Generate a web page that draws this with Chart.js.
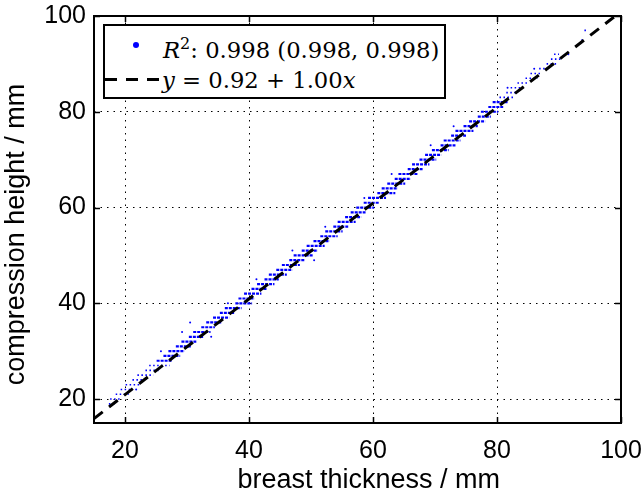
<!DOCTYPE html>
<html>
<head>
<meta charset="utf-8">
<script src="https://cdn.jsdelivr.net/npm/chart.js@4.4.0/dist/chart.umd.min.js"></script>
<style>
  body { margin: 0; background: #fff; }
  #wrap { position: relative; width: 644px; height: 498px; }
  #legend {
    position: absolute; left: 103px; top: 24px; width: 343px; height: 75px;
    box-sizing: border-box; border: 2px solid #000; background: #fff;
    font-family: 'DejaVu Serif', serif; font-size: 22.7px; color: #000;
  }
  #legend .row { position: absolute; white-space: nowrap; line-height: 30px; }
  #legend .dot { position: absolute; left: 28px; top: 16px; width: 6px; height: 6px; border-radius: 50%; background: #0000ff; }
  #legend .dash { position: absolute; left: 0; top: 52px; width: 56px; height: 3px;
    background: repeating-linear-gradient(90deg, #000 0 12px, transparent 12px 21px); }
  #legend sup { font-size: 16px; line-height: 0; vertical-align: 9px; }
</style>
</head>
<body>
<div id="wrap">
  <canvas id="scatterChart"></canvas>
  <div id="legend">
    <span class="dot"></span>
    <span class="row" style="left:58px; top:9px;"><i>R</i><sup>2</sup>: 0.998 (0.998, 0.998)</span>
    <span class="dash"></span>
    <span class="row" style="left:57px; top:39px;"><i>y</i> = 0.92 + 1.00<i>x</i></span>
  </div>
</div>
<script>
// Graduations des axes
const xTicks = [20, 40, 60, 80, 100];
const yTicks = [20, 40, 60, 80, 100];

// Bandes denses : hauteur de compression (y) et étendue de l'épaisseur (x)
const denseY = [28, 29, 30, 31, 32, 33, 34, 35, 36, 37, 38, 39, 40, 41, 42, 43, 44, 45, 46, 47,
  48, 49, 50, 51, 52, 53, 54, 55, 56, 57, 58, 59, 60, 61, 62, 63, 64, 65, 66, 67,
  68, 69, 70, 71, 72, 73, 74, 75, 76, 77, 78, 79, 80, 81, 82];
const denseXMin = [25.1, 26.2, 27.0, 28.2, 29.1, 30.3, 31.0, 32.3, 33.1, 34.2, 35.3, 36.1, 37.8, 38.3, 39.2, 40.4, 41.3, 42.5, 43.2, 44.4,
  45.3, 46.5, 47.2, 48.5, 49.3, 50.4, 51.5, 52.3, 53.6, 54.3, 55.5, 56.4, 57.3, 58.5, 59.2, 60.7, 61.4, 62.3, 63.5, 64.1,
  65.6, 66.3, 67.5, 68.4, 69.5, 70.9, 71.4, 72.6, 73.3, 74.6, 75.5, 76.9, 77.4, 78.6, 79.3];
const denseXMax = [27.6, 28.9, 29.6, 30.7, 31.5, 32.6, 33.8, 34.5, 35.6, 36.8, 37.6, 38.8, 40.5, 40.9, 42.0, 42.9, 44.1, 44.8, 46.1, 47.0,
  48.2, 49.0, 50.3, 51.1, 52.2, 53.0, 54.3, 55.1, 56.0, 57.2, 58.1, 58.8, 60.2, 61.0, 62.1, 63.6, 64.0, 65.2, 66.1, 67.2,
  68.0, 69.1, 70.2, 71.0, 72.2, 73.3, 74.1, 75.0, 76.2, 76.9, 78.1, 79.0, 80.2, 81.0, 81.7];

// Bandes clairsemées (extrémités)
const sparseY = [19, 20, 21, 22, 23, 24, 25, 26, 27, 83, 84, 85, 86, 87, 88, 89, 90, 91, 92, 95, 97];
const sparseXMin = [17.4, 17.6, 18.5, 19.3, 20.1, 21.2, 22.0, 23.3, 23.9, 80.4, 81.5, 82.2, 83.3, 84.6, 85.4, 86.8, 88.0, 88.7, 89.2, 93.6, 94.1];
const sparseXMax = [18.3, 19.4, 20.6, 21.3, 22.4, 23.1, 24.6, 25.4, 27.2, 82.6, 83.4, 84.1, 85.2, 86.6, 87.1, 88.2, 89.6, 90.3, 90.0, 94.2, 94.7];

// Points isolés
const outlierX = [21.8, 25.8, 29.2, 30.5, 33.9, 36.6, 41.2, 47.0, 50.5, 52.3, 58.6, 63.0, 69.3, 73.0, 81.7, 86.0, 91.5];
const outlierY = [22, 30, 34, 36, 33, 40, 45, 51, 49, 56, 62, 67, 73, 77, 85, 89, 92];

// Droite de régression y = 0.92 + 1.00x
const fitX = [15, 100];
const fitY = [15.92, 100.92];

const BLUE = '#0000ff';
const FONT = "'Liberation Sans', Arial, sans-serif";

function streakPoints(ys, x0s, x1s) {
    const pts = [];
    ys.forEach(function (y, i) {
        pts.push({ x: x0s[i], y: y });
        pts.push({ x: x1s[i], y: y });
        pts.push({ x: x1s[i], y: null });
    });
    return pts;
}

// Cadre et graduations intérieures façon MATLAB
const boxPlugin = {
    id: 'matlabBox',
    afterDraw(chart) {
        const { ctx, chartArea: a, scales } = chart;
        ctx.save();
        ctx.strokeStyle = '#000';
        ctx.lineWidth = 1.5;
        ctx.beginPath();
        xTicks.forEach(function (v) {
            const px = Math.round(scales.x.getPixelForValue(v)) + 0.5;
            ctx.moveTo(px, a.bottom); ctx.lineTo(px, a.bottom - 6);
            ctx.moveTo(px, a.top); ctx.lineTo(px, a.top + 6);
        });
        yTicks.forEach(function (v) {
            const py = Math.round(scales.y.getPixelForValue(v)) + 0.5;
            ctx.moveTo(a.left, py); ctx.lineTo(a.left + 6, py);
            ctx.moveTo(a.right, py); ctx.lineTo(a.right - 6, py);
        });
        ctx.stroke();
        ctx.lineWidth = 2;
        ctx.strokeRect(a.left, a.top, a.right - a.left, a.bottom - a.top);
        ctx.restore();
    }
};

function axisOptions(ticksList, title, isX) {
    return {
        type: 'linear',
        min: 15,
        max: 100,
        afterBuildTicks: function (scale) {
            scale.ticks = ticksList.map(function (v) { return { value: v }; });
        },
        afterFit: function (scale) {
            // taille fixe, sans marge automatique pour les étiquettes extrêmes
            if (isX) {
                scale.height = 75;
                scale.paddingLeft = 0;
                scale.paddingRight = 0;
            } else {
                scale.width = 94;
                scale.paddingTop = 0;
                scale.paddingBottom = 0;
            }
        },
        grid: { color: '#000', lineWidth: 1, drawTicks: false, borderDash: [1.5, 5] },
        border: { display: false, dash: [1.5, 5] },
        ticks: {
            color: '#000',
            padding: isX ? 13 : 8,
            maxRotation: 0,
            font: { family: FONT, size: 25 }
        },
        title: {
            display: true,
            text: title,
            color: '#000',
            font: { family: FONT, size: 27 },
            padding: { top: 0, bottom: isX ? 1 : 2 }
        }
    };
}

function initChart() {
    const ctx = document.getElementById('scatterChart');
    new Chart(ctx, {
        type: 'scatter',
        data: {
            datasets: [
                {
                    label: 'fit',
                    data: fitX.map(function (x, i) { return { x: x, y: fitY[i] }; }),
                    showLine: true,
                    borderColor: '#000',
                    borderWidth: 3,
                    borderDash: [11, 8],
                    pointRadius: 0,
                    clip: 0,
                    order: 0
                },
                {
                    label: 'dense',
                    data: streakPoints(denseY, denseXMin, denseXMax),
                    showLine: true,
                    spanGaps: false,
                    borderColor: BLUE,
                    borderWidth: 2.2,
                    borderDash: [3, 1],
                    pointRadius: 0,
                    order: 1
                },
                {
                    label: 'sparse',
                    data: streakPoints(sparseY, sparseXMin, sparseXMax),
                    showLine: true,
                    spanGaps: false,
                    borderColor: BLUE,
                    borderWidth: 1.6,
                    borderDash: [1.5, 2.5],
                    pointRadius: 0,
                    order: 2
                },
                {
                    label: 'outliers',
                    data: outlierX.map(function (x, i) { return { x: x, y: outlierY[i] }; }),
                    backgroundColor: BLUE,
                    borderWidth: 0,
                    pointRadius: 1,
                    order: 3
                }
            ]
        },
        options: {
            responsive: true,
            maintainAspectRatio: false,
            animation: false,
            layout: { padding: { top: 16, right: 23, left: 0, bottom: 0 } },
            plugins: { legend: { display: false }, tooltip: { enabled: false } },
            scales: {
                x: axisOptions(xTicks, '   breast thickness / mm', true),
                y: axisOptions(yTicks, 'compression height / mm    ', false)
            }
        },
        plugins: [boxPlugin]
    });
}

document.addEventListener('DOMContentLoaded', function () {
    initChart();
});
</script>
</body>
</html>
